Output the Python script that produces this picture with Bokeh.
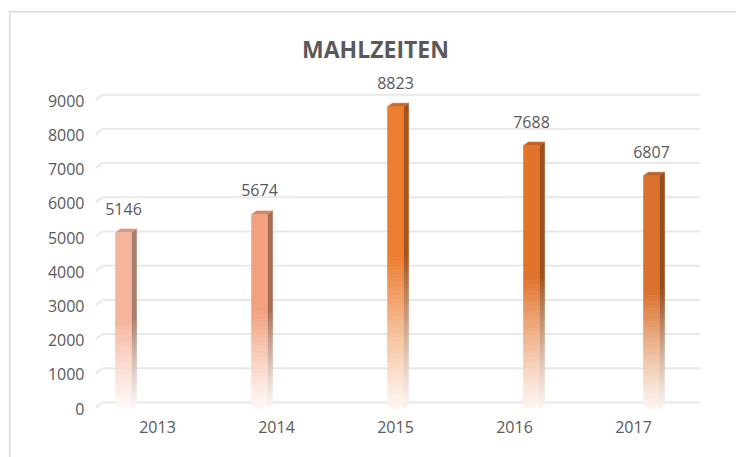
from bokeh.plotting import figure
from bokeh.models import Label, FixedTicker, ColumnDataSource
from bokeh.embed import file_html
from bokeh.resources import INLINE
from bokeh.core.properties import value

# ---------------- data ----------------
years = ["2013", "2014", "2015", "2016", "2017"]
meals = [5146, 5674, 8823, 7688, 6807]
y_ticks = [0, 1000, 2000, 3000, 4000, 5000, 6000, 7000, 8000, 9000]
chart_title = "MAHLZEITEN"

# ---------------- style ----------------
front_colors = ["#F5B59D", "#F2A17E", "#ED7D31", "#E1732B", "#DA712C"]
side_colors = ["#A87F6F", "#A76C52", "#A4541F", "#9C4F1D", "#974D1D"]
top_colors = ["#D39A84", "#D08A69", "#C86A2A", "#BE6326", "#B86126"]
bar_shift_px = [-34, -17, 0, 17, 18]   # 3D perspective shift of each bar vs its label
TEXT = "#595959"
GRID = "#E8E8E8"
BORDER = "#D9D9D9"
FONT = "Open Sans"

W, H = 736, 457
FRAME_L, FRAME_R, FRAME_T, FRAME_B = 95, 700, 0, 408
ZERO_PX = 408          # canvas y of value 0
PX_PER_1000 = 34.2
CAT_PX = 119.0
FIRST_LABEL_PX = 157
X0 = -(FIRST_LABEL_PX - FRAME_L) / CAT_PX
X1 = X0 + (FRAME_R - FRAME_L) / CAT_PX
PXX = 1.0 / CAT_PX
PXY = 1000.0 / PX_PER_1000
Y_MAX = (FRAME_B - FRAME_T) * PXY

FRONT_W = 16
SIDE_W = 5
DEPTH = 3.5
N_FADE = 36


def blend(hexcol, t):
    r, g, b = int(hexcol[1:3], 16), int(hexcol[3:5], 16), int(hexcol[5:7], 16)
    r = round(r * t + 255 * (1 - t))
    g = round(g * t + 255 * (1 - t))
    b = round(b * t + 255 * (1 - t))
    return "#%02X%02X%02X" % (r, g, b)


p = figure(width=W, height=H, output_backend="svg", toolbar_location=None,
           x_range=(X0, X1), y_range=(0, Y_MAX),
           min_border_left=FRAME_L, min_border_right=W - FRAME_R,
           min_border_top=FRAME_T, min_border_bottom=H - FRAME_B)
p.outline_line_color = None
p.grid.visible = False
p.background_fill_color = None
p.border_fill_color = None
# outer chart-area border (left and top edges visible in the window)
p.styles = {
    "background": ("linear-gradient(%s,%s) 9px 11px / 1.5px 100%% no-repeat, "
                   "linear-gradient(%s,%s) 9px 11px / 100%% 1.5px no-repeat, white")
    % (BORDER, BORDER, BORDER, BORDER)
}

# gridlines (3D floor look: short slant, then horizontal back-wall line)
gx0, gy0, gx1, gy1 = [], [], [], []
for t in y_ticks:
    gx0.append(X0); gy0.append(t + 0.5 * PXY)
    gx1.append(X0 + 6.7 * PXX); gy1.append(t + 6 * PXY)
    gx0.append(X0 + 6.7 * PXX); gy0.append(t + 6 * PXY)
    gx1.append(X1); gy1.append(t + 6 * PXY)
p.segment(x0=gx0, y0=gy0, x1=gx1, y1=gy1, line_color=GRID, line_width=2)

# bars
q = dict(left=[], right=[], bottom=[], top=[], color=[])
pt = dict(xs=[], ys=[], color=[])
xcs = []
for i, v in enumerate(meals):
    xc = i + bar_shift_px[i] * PXX
    xcs.append(xc)
    xl = xc - FRONT_W / 2 * PXX
    xr = xc + FRONT_W / 2 * PXX
    dx = SIDE_W * PXX
    dy = DEPTH * PXY
    half = v * 0.5
    segs = [(half, v, 1.0)]
    for k in range(N_FADE):
        f = (k + 0.5) / N_FADE
        tt = 0.07 + 0.93 * f ** 1.15
        segs.append((half * k / N_FADE, half * (k + 1) / N_FADE, tt))
    for (b0, b1, tt) in segs:
        q["left"].append(xl); q["right"].append(xr)
        q["bottom"].append(b0); q["top"].append(b1)
        q["color"].append(blend(front_colors[i], tt))
        pt["xs"].append([xr, xr + dx, xr + dx, xr])
        pt["ys"].append([b0, b0 + dy, b1 + dy, b1])
        pt["color"].append(blend(side_colors[i], tt))
    pt["xs"].append([xl, xl + dx, xr + dx, xr])
    pt["ys"].append([v, v + dy, v + dy, v])
    pt["color"].append(top_colors[i])

p.patches(xs="xs", ys="ys", source=ColumnDataSource(pt), fill_color="color",
          line_color="color", line_width=0.6)
p.quad(left="left", right="right", bottom="bottom", top="top",
       source=ColumnDataSource(q), fill_color="color", line_color="color", line_width=0.6)

# data labels
p.text(x=xcs, y=meals, text=[str(v) for v in meals], text_align="center",
       text_baseline="alphabetic", y_offset=-24, text_color=TEXT,
       text_font=value(FONT), text_font_size="16px")

# axes
p.xaxis.ticker = FixedTicker(ticks=list(range(len(years))))
p.xaxis.major_label_overrides = {i: y for i, y in enumerate(years)}
p.yaxis.ticker = FixedTicker(ticks=y_ticks)
for ax in (p.xaxis[0], p.yaxis[0]):
    ax.axis_line_color = None
    ax.major_tick_line_color = None
    ax.minor_tick_line_color = None
    ax.major_tick_out = 0
    ax.major_tick_in = 0
    ax.major_label_text_color = TEXT
    ax.major_label_text_font = FONT
    ax.major_label_text_font_size = "16px"
p.xaxis.major_label_standoff = 12
p.yaxis.major_label_standoff = 11

# title (inside the frame's top band)
p.add_layout(Label(x=X0 + (375 - FRAME_L) * PXX, y=(FRAME_B - 48) * PXY,
                   text=chart_title, text_align="center", text_baseline="middle",
                   text_color=TEXT, text_font=FONT, text_font_size="23px",
                   text_font_style="bold"))

open("out.html", "w").write(file_html(p, INLINE))
